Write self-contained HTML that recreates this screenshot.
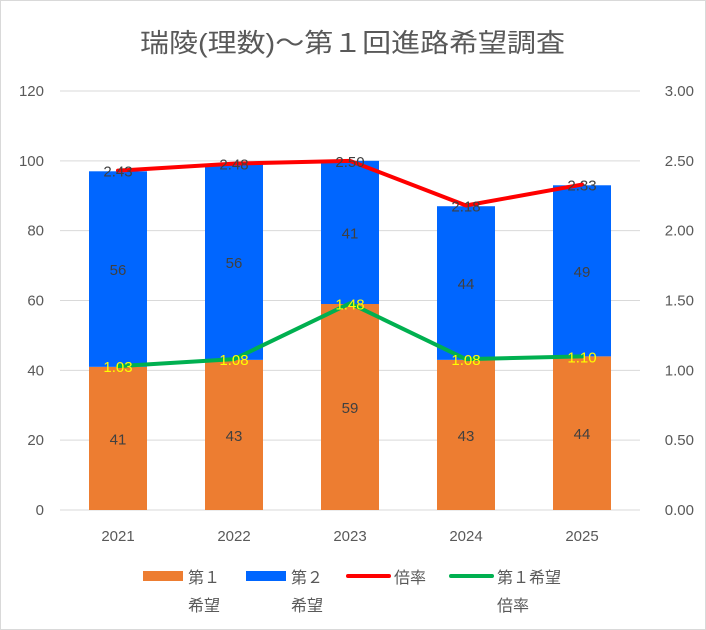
<!DOCTYPE html>
<html><head><meta charset="utf-8"><style>
body{margin:0;background:#fff}
svg{display:block;font-family:"Liberation Sans","Noto Sans CJK JP",sans-serif}
</style></head><body>
<svg id="c" width="706" height="630" viewBox="0 0 706 630">
<rect x="0.5" y="0.5" width="705" height="629" fill="#fff" stroke="#d9d9d9"/>
<text x="140" y="52" textLength="425" lengthAdjust="spacingAndGlyphs" font-size="26" fill="#595959">瑞陵(理数)～第１回進路希望調査</text>
<g id="grid"></g><g id="bars"></g><g id="lines"></g><g id="labels"></g>
<g font-size="16" fill="#595959">
<rect x="143" y="571" width="40" height="10" fill="#ed7d31"/>
<text x="188" y="583">第１</text>
<text x="188" y="611">希望</text>
<rect x="246" y="571" width="40" height="10" fill="#0066ff"/>
<text x="291" y="583">第２</text>
<text x="291" y="611">希望</text>
<line x1="348" y1="576" x2="389" y2="576" stroke="#ff0000" stroke-width="4" stroke-linecap="round"/>
<text x="394" y="583">倍率</text>
<line x1="451" y1="576" x2="492" y2="576" stroke="#00b050" stroke-width="4" stroke-linecap="round"/>
<text x="497" y="583">第１希望</text>
<text x="497" y="611">倍率</text>
</g>
</svg>
<script>
const categories=["2021","2022","2023","2024","2025"];
const firstChoice=[41,43,59,43,44];
const secondChoice=[56,56,41,44,49];
const ratio=[2.43,2.48,2.50,2.18,2.33];
const firstRatio=[1.03,1.08,1.48,1.08,1.10];
const leftTicks=[0,20,40,60,80,100,120];
const rightTicks=["0.00","0.50","1.00","1.50","2.00","2.50","3.00"];
const NS="http://www.w3.org/2000/svg";
const x0=60,x1=640,yB=510,yT=91;
const y=v=>yB-(v/120)*(yB-yT);
const yr=v=>yB-(v/3)*(yB-yT);
const bw=(x1-x0)/categories.length;
const xc=i=>x0+bw*(i+0.5);
function mk(t,a,p){const e=document.createElementNS(NS,t);for(const k in a)e.setAttribute(k,a[k]);document.getElementById(p).appendChild(e);return e;}
leftTicks.forEach((v,i)=>{
 const l=mk("line",{x1:x0,x2:x1,y1:y(v),y2:y(v),stroke:"#d9d9d9"},"grid");
 
 
 const t=mk("text",{x:44,y:y(v)+5,"text-anchor":"end","font-size":"15",fill:"#595959"},"grid");t.textContent=v;
 
 
 const r=mk("text",{x:694,y:yr(i*0.5)+5,"text-anchor":"end","font-size":"15",fill:"#595959"},"grid");r.textContent=rightTicks[i];
 
 
});
const W=58;
categories.forEach((c,i)=>{
 const cx=xc(i);
 const a=mk("rect",{x:cx-W/2,y:y(firstChoice[i]),width:W,height:yB-y(firstChoice[i]),fill:"#ed7d31"},"bars");
 
 
 const tot=firstChoice[i]+secondChoice[i];
 const b=mk("rect",{x:cx-W/2,y:y(tot),width:W,height:y(firstChoice[i])-y(tot),fill:"#0066ff"},"bars");
 
 
 const t1=mk("text",{x:cx,y:(y(firstChoice[i])+yB)/2+6,"text-anchor":"middle","font-size":"15",fill:"#404040"},"labels");t1.textContent=firstChoice[i];
 
 
 const t2=mk("text",{x:cx,y:(y(firstChoice[i])+y(tot))/2+6,"text-anchor":"middle","font-size":"15",fill:"#404040"},"labels");t2.textContent=secondChoice[i];
 
 
 const cl=mk("text",{x:cx,y:541,"text-anchor":"middle","font-size":"15",fill:"#595959"},"grid");cl.textContent=c;
 
 
 const r=mk("text",{x:cx,y:yr(ratio[i])+6,"text-anchor":"middle","font-size":"15",fill:"#404040"},"labels");r.textContent=ratio[i].toFixed(2);
 
 
 const g=mk("text",{x:cx,y:yr(firstRatio[i])+6,"text-anchor":"middle","font-size":"15",fill:"#ffff00"},"labels");g.textContent=firstRatio[i].toFixed(2);
 
 
});
const axis=mk("line",{x1:x0,x2:x1,y1:yB,y2:yB,stroke:"#d9d9d9"},"grid");


const lr=mk("polyline",{points:ratio.map((v,i)=>xc(i)+","+yr(v)).join(" "),fill:"none",stroke:"#ff0000","stroke-width":"4","stroke-linejoin":"round","stroke-linecap":"round"},"lines");


const lg=mk("polyline",{points:firstRatio.map((v,i)=>xc(i)+","+yr(v)).join(" "),fill:"none",stroke:"#00b050","stroke-width":"4","stroke-linejoin":"round","stroke-linecap":"round"},"lines");


</script>
</body></html>
